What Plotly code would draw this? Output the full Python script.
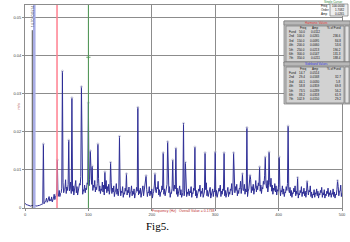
import plotly.graph_objects as go

# ---------------- data ----------------
even_freq = list(range(0, 501, 2))
even_amp = [
    0.0012, 0.0009, 0.0008, 0.0007, 0.0006, 0.0006, 0.0007, 0.0008, 0.0006, 0.0005,
    0.0006, 0.0007, 0.0008, 0.0010, 0.0012, 0.0011, 0.0016, 0.0026, 0.0018, 0.0030,
    0.0022, 0.0029, 0.0020, 0.0036, 0.0028, 0.0042, 0.0030, 0.0046, 0.0038, 0.0052,
    0.0066, 0.0048, 0.0074, 0.0055, 0.0062, 0.0045, 0.0068, 0.0050, 0.0058, 0.0044,
    0.0072, 0.0056, 0.0046, 0.0064, 0.0082, 0.0058, 0.0048, 0.0060, 0.0052, 0.0066,
    0.0090, 0.0075, 0.0068, 0.0082, 0.0060, 0.0072, 0.0055, 0.0064, 0.0078, 0.0058,
    0.0050, 0.0068, 0.0060, 0.0045, 0.0072, 0.0056, 0.0062, 0.0048, 0.0066, 0.0052,
    0.0058, 0.0042, 0.0064, 0.0050, 0.0046, 0.0060, 0.0044, 0.0056, 0.0040, 0.0052,
    0.0062, 0.0046, 0.0055, 0.0040, 0.0058, 0.0044, 0.0050, 0.0038, 0.0054, 0.0062,
    0.0046, 0.0052, 0.0040, 0.0058, 0.0045, 0.0064, 0.0048, 0.0042, 0.0056, 0.0044,
    0.0050, 0.0038, 0.0060, 0.0046, 0.0054, 0.0070, 0.0048, 0.0042, 0.0058, 0.0066,
    0.0050, 0.0044, 0.0062, 0.0048, 0.0056, 0.0040, 0.0052, 0.0046, 0.0060, 0.0068,
    0.0052, 0.0044, 0.0058, 0.0048, 0.0040, 0.0054, 0.0046, 0.0060, 0.0042, 0.0050,
    0.0044, 0.0056, 0.0040, 0.0052, 0.0062, 0.0046, 0.0038, 0.0050, 0.0060, 0.0044,
    0.0052, 0.0040, 0.0058, 0.0066, 0.0046, 0.0042, 0.0054, 0.0038, 0.0050, 0.0044,
    0.0058, 0.0046, 0.0040, 0.0052, 0.0060, 0.0044, 0.0050, 0.0062, 0.0046, 0.0040,
    0.0054, 0.0042, 0.0050, 0.0064, 0.0048, 0.0040, 0.0056, 0.0062, 0.0046, 0.0052,
    0.0070, 0.0054, 0.0046, 0.0062, 0.0050, 0.0058, 0.0044, 0.0068, 0.0074, 0.0056,
    0.0062, 0.0050, 0.0072, 0.0058, 0.0066, 0.0080, 0.0060, 0.0054, 0.0070, 0.0086,
    0.0064, 0.0072, 0.0058, 0.0066, 0.0078, 0.0060, 0.0052, 0.0064, 0.0058, 0.0048,
    0.0062, 0.0054, 0.0046, 0.0058, 0.0050, 0.0042, 0.0056, 0.0064, 0.0048, 0.0054,
    0.0046, 0.0040, 0.0052, 0.0058, 0.0044, 0.0050, 0.0038, 0.0046, 0.0056, 0.0042,
    0.0052, 0.0044, 0.0040, 0.0050, 0.0046, 0.0058, 0.0042, 0.0036, 0.0048, 0.0040,
    0.0050, 0.0044, 0.0038, 0.0046, 0.0054, 0.0040, 0.0048, 0.0036, 0.0044, 0.0052,
    0.0040, 0.0046, 0.0038, 0.0050, 0.0042, 0.0036, 0.0048, 0.0056, 0.0044, 0.0060,
    0.0040,
]
odd_freq = list(range(1, 500, 2))
odd_amp = [
    0.0010, 0.0008, 0.0007, 0.0006, 0.0005, 0.0006, 0.0007, 0.0006, 0.0005, 0.0005,
    0.0006, 0.0007, 0.0008, 0.0009, 0.0010, 0.0013, 0.0020, 0.0015, 0.0024, 0.0018,
    0.0019, 0.0016, 0.0026, 0.0022, 0.0032, 0.0024, 0.0034, 0.0030, 0.0040, 0.0048,
    0.0040, 0.0052, 0.0038, 0.0046, 0.0036, 0.0050, 0.0038, 0.0044, 0.0034, 0.0052,
    0.0040, 0.0034, 0.0048, 0.0060, 0.0042, 0.0036, 0.0044, 0.0040, 0.0048, 0.0062,
    0.0058, 0.0050, 0.0062, 0.0046, 0.0054, 0.0042, 0.0048, 0.0056, 0.0044, 0.0038,
    0.0046, 0.0042, 0.0034, 0.0050, 0.0040, 0.0044, 0.0036, 0.0046, 0.0038, 0.0042,
    0.0030, 0.0044, 0.0036, 0.0032, 0.0042, 0.0032, 0.0040, 0.0028, 0.0036, 0.0044,
    0.0034, 0.0040, 0.0028, 0.0042, 0.0032, 0.0036, 0.0026, 0.0040, 0.0044, 0.0034,
    0.0038, 0.0028, 0.0042, 0.0032, 0.0046, 0.0034, 0.0030, 0.0040, 0.0032, 0.0036,
    0.0026, 0.0044, 0.0032, 0.0040, 0.0050, 0.0034, 0.0030, 0.0042, 0.0048, 0.0036,
    0.0032, 0.0046, 0.0034, 0.0040, 0.0028, 0.0038, 0.0032, 0.0044, 0.0050, 0.0036,
    0.0030, 0.0042, 0.0034, 0.0028, 0.0040, 0.0032, 0.0044, 0.0030, 0.0036, 0.0032,
    0.0040, 0.0028, 0.0038, 0.0046, 0.0032, 0.0026, 0.0036, 0.0044, 0.0030, 0.0038,
    0.0028, 0.0042, 0.0048, 0.0032, 0.0030, 0.0040, 0.0026, 0.0036, 0.0030, 0.0042,
    0.0032, 0.0028, 0.0038, 0.0044, 0.0030, 0.0036, 0.0046, 0.0032, 0.0028, 0.0040,
    0.0030, 0.0036, 0.0046, 0.0034, 0.0028, 0.0040, 0.0046, 0.0032, 0.0038, 0.0050,
    0.0038, 0.0032, 0.0046, 0.0036, 0.0042, 0.0030, 0.0050, 0.0054, 0.0040, 0.0046,
    0.0036, 0.0052, 0.0042, 0.0048, 0.0058, 0.0044, 0.0038, 0.0050, 0.0062, 0.0046,
    0.0052, 0.0042, 0.0048, 0.0056, 0.0044, 0.0036, 0.0046, 0.0042, 0.0034, 0.0044,
    0.0040, 0.0032, 0.0042, 0.0036, 0.0030, 0.0040, 0.0046, 0.0034, 0.0040, 0.0032,
    0.0028, 0.0038, 0.0042, 0.0032, 0.0036, 0.0026, 0.0034, 0.0040, 0.0030, 0.0038,
    0.0032, 0.0028, 0.0036, 0.0034, 0.0042, 0.0030, 0.0026, 0.0034, 0.0028, 0.0036,
    0.0032, 0.0026, 0.0034, 0.0040, 0.0028, 0.0034, 0.0026, 0.0032, 0.0038, 0.0030,
    0.0034, 0.0028, 0.0036, 0.0030, 0.0026, 0.0034, 0.0040, 0.0032, 0.0044, 0.0030,
]

peak_freq = [14.7, 29, 51, 59, 69, 74, 89, 100, 103, 106, 115, 126, 135, 149, 160,
             178, 191, 205, 218, 225, 233, 238, 250, 253, 268, 284, 300, 314, 329,
             343, 350, 355, 370, 379, 385, 401, 415, 430, 445, 493]
peak_amp = [0.0534, 0.0168, 0.0126, 0.0359, 0.0178, 0.0289, 0.0318, 0.0276, 0.0150,
            0.0110, 0.0168, 0.0095, 0.0120, 0.0188, 0.0090, 0.0264, 0.0085, 0.0090,
            0.0145, 0.0174, 0.0126, 0.0157, 0.0222, 0.0120, 0.0160, 0.0145, 0.0147,
            0.0145, 0.0145, 0.0090, 0.0211, 0.0086, 0.0108, 0.0134, 0.0147, 0.0134,
            0.0215, 0.0080, 0.0070, 0.0072]

x_ticks = [0, 100, 200, 300, 400, 500]
y_ticks = [0, 0.01, 0.02, 0.03, 0.04, 0.05]
y_tick_labels = ["0", "0.01", "0.02", "0.03", "0.04", "0.05"]

cursor_freq = 14.7
cursor_amp = 0.0534
cursor_text = "14.70, 0.0514"
black_cursor_freq = 11.5
black_cursor_amp = 0.0466
red_cursor_freq = 50.5
green_cursor_freq = 100
green_marker_amp = 0.0395

x_title = "Frequency (Hz)   Overall Value = 0.1738"
caption = "Fig5."

table_a_title = "Single Cursor"
table_a_rows = [("Freq", "100.0000"), ("Order", "1.7082"), ("Amp", "0.0265")]
table_b_title = "Harmonic Values"
table_c_title = "Sideband Values"
table_head = ("Freq", "Amp", "% of Fund")
table_b_rows = [("Fund", "50.0", "0.0112", ""), ("2nd", "100.0", "0.0265", "236.6"),
                ("3rd", "150.0", "0.0095", "84.8"), ("4th", "200.0", "0.0060", "53.6"),
                ("5th", "250.0", "0.0213", "190.2"), ("6th", "300.0", "0.0147", "131.3"),
                ("7th", "350.0", "0.0211", "188.4")]
table_c_rows = [("Fund", "14.7", "0.0514", ""), ("2nd", "29.4", "0.0168", "32.7"),
                ("3rd", "44.1", "0.0030", "5.8"), ("4th", "58.8", "0.0359", "69.8"),
                ("5th", "73.5", "0.0289", "56.2"), ("6th", "88.2", "0.0318", "61.9"),
                ("7th", "102.9", "0.0150", "29.2")]

# merge baseline with peaks (peaks override grid values at the same frequency)
amp_by_freq = dict(zip(even_freq, even_amp))
amp_by_freq.update(zip(odd_freq, odd_amp))
amp_by_freq.update(zip(peak_freq, peak_amp))
spec_f = sorted(amp_by_freq)
spec_a = [amp_by_freq[f] for f in spec_f]

# ---------------- figure ----------------
W, H = 350, 242
L, R, T, B = 25, 8, 5, 34
PW, PH = W - L - R, H - T - B


def px(x):
    return (x - L) / PW


def py(y):
    return (H - B - y) / PH


YMAX = 0.0532
fig = go.Figure()

fig.add_trace(go.Scatter(x=spec_f, y=spec_a, mode="lines",
                         line=dict(color="#2e2e96", width=1), hoverinfo="skip"))
fig.add_trace(go.Scatter(x=[cursor_freq, cursor_freq], y=[0, cursor_amp], mode="lines",
                         line=dict(color="#a9aee6", width=2.5), hoverinfo="skip"))
fig.add_trace(go.Scatter(x=[black_cursor_freq, black_cursor_freq], y=[0, black_cursor_amp],
                         mode="lines", line=dict(color="#222222", width=0.8), hoverinfo="skip"))
fig.add_trace(go.Scatter(x=[cursor_freq], y=[cursor_amp], mode="markers",
                         marker=dict(color="black", size=4), cliponaxis=False, hoverinfo="skip"))
fig.add_trace(go.Scatter(x=peak_freq[1:], y=peak_amp[1:], mode="markers",
                         marker=dict(color="rgba(0,0,0,0)", size=2,
                                     line=dict(color="#b4b4cc", width=0.6)),
                         hoverinfo="skip"))
fig.add_trace(go.Scatter(x=[green_cursor_freq], y=[green_marker_amp], mode="markers",
                         marker=dict(symbol="cross-thin", size=3,
                                     line=dict(color="#4a8a4a", width=0.8)),
                         hoverinfo="skip"))

fig.add_vline(x=red_cursor_freq, line=dict(color="#ff8090", width=1.5))
fig.add_vline(x=green_cursor_freq, line=dict(color="#4f9a55", width=1))

fig.add_annotation(x=black_cursor_freq, y=0.0503, text=cursor_text, textangle=-90,
                   showarrow=False, font=dict(size=3.5, color="#333333"),
                   xanchor="center", yanchor="middle")

axis_font = dict(size=4, color="#444444", family="Arial")
fig.update_xaxes(range=[0, 500], tickvals=x_ticks, ticktext=[str(v) for v in x_ticks],
                 showgrid=True, gridcolor="#8c8c8c", gridwidth=1, zeroline=False,
                 showline=True, linecolor="#8c8c8c", mirror=True, linewidth=1,
                 ticks="outside", ticklen=2, tickcolor="#8c8c8c", tickfont=axis_font)
fig.update_yaxes(range=[0, YMAX], tickvals=y_ticks, ticktext=y_tick_labels,
                 showgrid=True, gridcolor="#8c8c8c", gridwidth=1, zeroline=False,
                 showline=True, linecolor="#8c8c8c", mirror=True, linewidth=1,
                 ticks="outside", ticklen=2, tickcolor="#8c8c8c", tickfont=axis_font)

fig.add_annotation(xref="paper", yref="paper", x=px(183), y=py(215.5), text=x_title,
                   showarrow=False, font=dict(size=3.5, color="#c03030", family="Arial"))
fig.add_annotation(xref="paper", yref="paper", x=px(13), y=py(107), text="m/s",
                   textangle=-90, showarrow=False,
                   font=dict(size=4, color="#b04848", family="Arial"))
fig.add_annotation(xref="paper", yref="paper", x=px(157), y=py(234), text=caption,
                   showarrow=False,
                   font=dict(size=11, color="black", family="Liberation Serif"))

shapes = []


def rect(x0, y0, x1, y1, fill, line="#7a7a7a", w=0.7):
    shapes.append(dict(type="rect", xref="paper", yref="paper",
                       x0=px(x0), x1=px(x1), y0=py(y1), y1=py(y0),
                       fillcolor=fill, line=dict(color=line, width=w), layer="above"))


def txt(x, y, s, color="#111111", anchor="left", size=3):
    fig.add_annotation(xref="paper", yref="paper", x=px(x), y=py(y), text=s,
                       showarrow=False, xanchor=anchor, yanchor="middle",
                       font=dict(size=size, color=color, family="Arial"))


rect(316, 0, 350, 17, "#c4c4c4")
txt(333, 1.6, table_a_title, color="#2f8a3a", anchor="center")
rect(318, 4, 329, 16, "#d6d6d6")
rect(330, 4, 348, 16, "#eeeeee")
for i, (lab, val) in enumerate(table_a_rows):
    txt(319, 6 + i * 4, lab)
    txt(347.5, 6 + i * 4, val, anchor="right")


def big_table(y0, title, color, rows):
    rect(284, y0, 350, y0 + 42, "#c4c4c4")
    rect(284, y0, 350, y0 + 4, "#b8b8b8")
    txt(316, y0 + 2, title, color=color, anchor="center")
    rect(286, y0 + 5, 344, y0 + 41, "#d2d2d2")
    rect(345, y0 + 5, 349, y0 + 41, "#e2e2e2")
    txt(303, y0 + 7, table_head[0], anchor="center")
    txt(315, y0 + 7, table_head[1], anchor="center")
    txt(334, y0 + 7, table_head[2], anchor="center")
    for i, (a, b, c, d) in enumerate(rows):
        yy = y0 + 11 + i * 4.4
        txt(287, yy, a)
        txt(307, yy, b, anchor="right")
        txt(322, yy, c, anchor="right")
        txt(343, yy, d, anchor="right")


big_table(21, table_b_title, "#e03a3a", table_b_rows)
big_table(62, table_c_title, "#3a3ae0", table_c_rows)

fig.update_layout(width=W, height=H, margin=dict(l=L, r=R, t=T, b=B),
                  paper_bgcolor="white", plot_bgcolor="white", showlegend=False,
                  shapes=shapes)

fig.write_html("out.html")
